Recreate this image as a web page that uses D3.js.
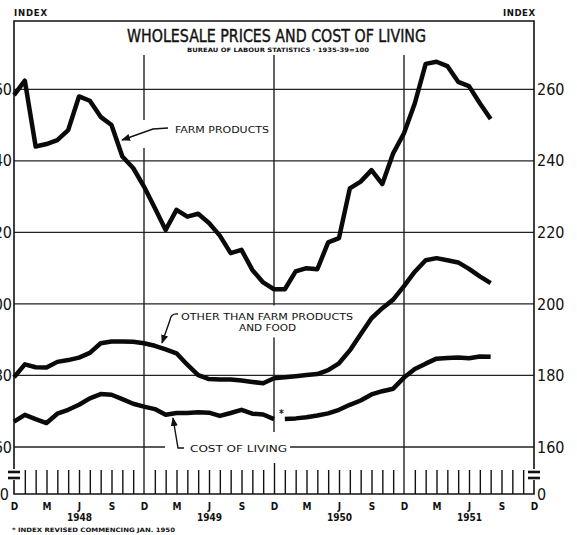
<!DOCTYPE html>
<html lang="en">
<head>
<meta charset="UTF-8">
<title>Wholesale Prices and Cost of Living</title>
<script src="https://d3js.org/d3.v7.min.js"></script>
<style>
    body { margin: 0; background: #fff; }
    svg { display: block; }
    text { font-family: "DejaVu Sans Condensed", "Liberation Sans Narrow", "DejaVu Sans", sans-serif; fill: #111; }
</style>
</head>
<body>
<svg width="577" height="535"></svg>
<script>
    // month index 0 = Dec 1947 ... 48 = Dec 1951
    const monthLabels = ["D", "M", "J", "S"];
    const years = ["1948", "1949", "1950", "1951"];
    const yTicks = [160, 180, 200, 220, 240, 260];

    // farm products, Dec 1947 - Aug 1951
    const farmProducts = [258.4, 262.4, 244.0, 244.7, 245.8, 248.6, 258.0, 256.8, 252.3, 250.0, 241.2, 238.0,
        232.8, 226.8, 220.7, 226.3, 224.4, 225.2, 222.6, 219.1, 214.2, 215.1, 209.5, 206.0,
        204.1, 204.1, 209.1, 210.0, 209.7, 217.2, 218.4, 232.3, 234.2, 237.4, 233.5, 242.1,
        247.7, 256.1, 267.1, 267.7, 266.5, 262.1, 260.9, 256.1, 251.7];

    // other than farm products and food, Dec 1947 - Aug 1951
    const otherThanFarm = [179.5, 183.1, 182.3, 182.2, 183.8, 184.3, 185.0, 186.3, 189.0, 189.5, 189.5, 189.4,
        189.0, 188.3, 187.3, 186.2, 183.0, 180.1, 179.0, 178.9, 178.9, 178.6, 178.2, 177.8,
        179.2, 179.5, 179.8, 180.1, 180.4, 181.5, 183.4, 187.0, 191.5, 196.0, 198.8, 201.2,
        205.0, 209.0, 212.2, 212.8, 212.2, 211.6, 209.8, 207.7, 205.8];

    // cost of living, old index Dec 1947 - Dec 1949
    const costOld = [167.1, 169.0, 167.8, 166.7, 169.3, 170.4, 171.8, 173.6, 174.8, 174.6, 173.4, 172.1,
        171.3, 170.6, 169.0, 169.5, 169.5, 169.7, 169.6, 168.7, 169.5, 170.4, 169.3, 169.1, 167.8];
    // cost of living, revised index Jan 1950 - Aug 1951
    const costRevised = [167.8, 168.0, 168.3, 168.8, 169.4, 170.4, 171.8, 173.0, 174.7, 175.6, 176.3,
        179.4, 181.8, 183.3, 184.7, 184.9, 185.0, 184.8, 185.3, 185.2];
    const revisedStart = 25;

    const svg = d3.select("svg");
    const left = 14, right = 534, frameTop = 21, base = 494;

    const x = d3.scaleLinear().domain([0, 48]).range([left, right]);
    const y = d3.scaleLinear().domain([160, 260]).range([447, 89.3]);

    // horizontal grid
    svg.append("g").selectAll("line")
        .data(yTicks)
        .join("line")
        .attr("x1", left).attr("x2", right)
        .attr("y1", d => y(d)).attr("y2", d => y(d))
        .attr("stroke", "#222").attr("stroke-width", 1.3);

    // vertical grid at the Decembers
    const gridTop = 55;
    svg.append("g").selectAll("line")
        .data([12, 24, 36])
        .join("line")
        .attr("x1", d => x(d)).attr("x2", d => x(d))
        .attr("y1", gridTop).attr("y2", d => d === 24 ? 432 : base)
        .attr("stroke", "#222").attr("stroke-width", 1.4);

    // gaps behind the labels
    const mask = svg.append("g").attr("fill", "#fff");
    mask.append("rect").attr("x", x(12) - 4).attr("y", 120).attr("width", 8).attr("height", 28);
    mask.append("rect").attr("x", 178).attr("y", y(200) + 1.5).attr("width", 180).attr("height", 32);
    mask.append("rect").attr("x", 165).attr("y", y(160) - 8).attr("width", 125).attr("height", 16);

    // frame
    const frame = svg.append("g").attr("stroke", "#111").attr("fill", "none").attr("stroke-width", 1.6);
    frame.append("path").attr("d", `M${left},469 V${frameTop} H${right} V469`);
    frame.append("path").attr("d", `M${left},480 V${base} H${right} V480`);
    [left, right].forEach(xx => {
        [472, 478].forEach(yy => {
            svg.append("line").attr("x1", xx - 6).attr("x2", xx + 6)
                .attr("y1", yy).attr("y2", yy)
                .attr("stroke", "#111").attr("stroke-width", 2.6);
        });
    });

    // month ticks
    const tickAxis = d3.axisBottom(x)
        .tickValues(d3.range(1, 48).filter(d => d !== 12 && d !== 36))
        .tickSize(-24).tickFormat("");
    const tg = svg.append("g").attr("transform", `translate(0,${base})`).call(tickAxis);
    tg.select(".domain").remove();
    tg.selectAll(".tick line").attr("stroke", "#111").attr("stroke-width", 1.4)
        .attr("y2", d => d === 24 ? -31 : -24);

    // month labels
    const mAxis = d3.axisBottom(x)
        .tickValues(d3.range(0, 49, 3))
        .tickSize(0).tickPadding(9)
        .tickFormat(d => monthLabels[(d / 3) % 4]);
    const mg = svg.append("g").attr("transform", `translate(0,${base})`).call(mAxis);
    mg.select(".domain").remove();
    mg.selectAll("text").attr("font-size", 10).attr("font-weight", "bold")
        .attr("font-family", "\"DejaVu Sans\", sans-serif");

    // year labels
    const yrAxis = d3.axisBottom(x)
        .tickValues([6, 18, 30, 42])
        .tickSize(0).tickPadding(20)
        .tickFormat((d, i) => years[i]);
    const yg = svg.append("g").attr("transform", `translate(0,${base})`).call(yrAxis);
    yg.select(".domain").remove();
    yg.selectAll("text").attr("font-size", 10).attr("font-weight", "bold")
        .attr("font-family", "\"DejaVu Sans\", sans-serif");

    // value axes
    const la = svg.append("g").attr("transform", `translate(${left},0)`)
        .call(d3.axisLeft(y).tickValues(yTicks).tickSize(0).tickPadding(2));
    const ra = svg.append("g").attr("transform", `translate(${right},0)`)
        .call(d3.axisRight(y).tickValues(yTicks).tickSize(0).tickPadding(3));
    [la, ra].forEach(g => {
        g.select(".domain").remove();
        g.selectAll("text").attr("font-size", 16);
    });
    svg.append("text").attr("x", left - 5).attr("y", base + 6).attr("text-anchor", "end")
        .attr("font-size", 16).text("0");
    svg.append("text").attr("x", right + 3).attr("y", base + 6)
        .attr("font-size", 16).text("0");

    // headings
    svg.append("text").attr("x", 14).attr("y", 15.5).attr("font-size", 9.5).attr("font-weight", "bold")
        .attr("textLength", 33).text("INDEX");
    svg.append("text").attr("x", 503).attr("y", 15.5).attr("font-size", 9.5).attr("font-weight", "bold")
        .attr("textLength", 32).text("INDEX");
    svg.append("text").attr("x", 127).attr("y", 42).attr("font-size", 18)
        .attr("stroke", "#111").attr("stroke-width", 0.4)
        .attr("textLength", 299).attr("lengthAdjust", "spacingAndGlyphs")
        .text("WHOLESALE PRICES AND COST OF LIVING");
    svg.append("text").attr("x", 187).attr("y", 52).attr("font-size", 6).attr("font-weight", "bold")
        .attr("textLength", 182).attr("lengthAdjust", "spacingAndGlyphs")
        .text("BUREAU OF LABOUR STATISTICS \u00b7 1935-39=100");
    svg.append("text").attr("x", 12).attr("y", 532).attr("font-size", 6).attr("font-weight", "bold")
        .attr("textLength", 163).attr("lengthAdjust", "spacingAndGlyphs")
        .text("* INDEX REVISED COMMENCING JAN. 1950");

    // series labels
    const lab = (tx, ty, len, s) => svg.append("text").attr("x", tx).attr("y", ty)
        .attr("font-size", 9.5).attr("textLength", len).attr("lengthAdjust", "spacingAndGlyphs").text(s);
    lab(175, 133, 94, "FARM PRODUCTS");
    lab(181, 320, 172, "OTHER THAN FARM PRODUCTS");
    lab(239, 331, 57, "AND FOOD");
    lab(190, 452, 97, "COST OF LIVING");
    svg.append("text").attr("x", 279).attr("y", 417).attr("font-size", 10).attr("font-weight", "bold").text("*");

    // leaders with arrowheads
    svg.append("defs").append("marker")
        .attr("id", "ah").attr("viewBox", "0 0 10 10").attr("refX", 9).attr("refY", 5)
        .attr("markerWidth", 9).attr("markerHeight", 9).attr("markerUnits", "userSpaceOnUse")
        .attr("orient", "auto")
        .append("path").attr("d", "M0,1 L10,5 L0,9 Z").attr("fill", "#111");
    const lead = d => svg.append("path").attr("d", d).attr("fill", "none")
        .attr("stroke", "#111").attr("stroke-width", 1.4).attr("marker-end", "url(#ah)");
    lead("M168,128 L153,129 L122,140");
    lead("M178,314 Q171,313 170,320 L162,343");
    lead("M184,448 L178,448 L173,418");

    // data lines
    const line = d3.line().x(d => x(d[0])).y(d => y(d[1]));
    const series = [
        farmProducts.map((v, i) => [i, v]),
        otherThanFarm.map((v, i) => [i, v]),
        costOld.map((v, i) => [i, v]),
        costRevised.map((v, i) => [i + revisedStart, v])
    ];
    svg.append("g").selectAll("path")
        .data(series)
        .join("path")
        .attr("d", line)
        .attr("fill", "none")
        .attr("stroke", "#0a0a0a")
        .attr("stroke-width", 4.5)
        .attr("stroke-linejoin", "round");
</script>
</body>
</html>
